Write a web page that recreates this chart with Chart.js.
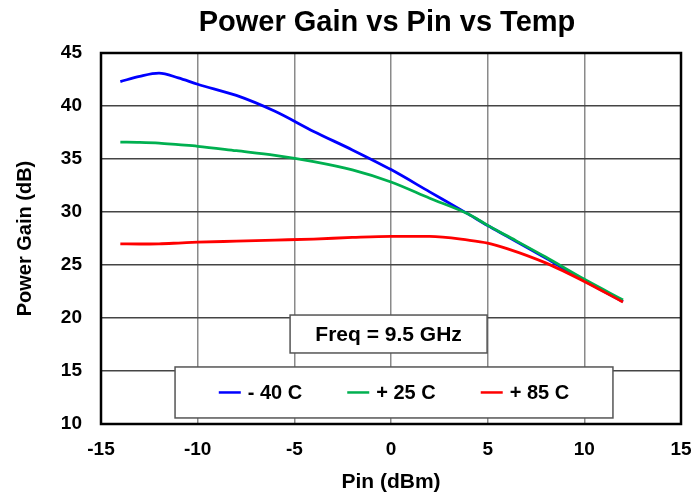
<!DOCTYPE html>
<html><head><meta charset="utf-8">
<script src="https://cdn.jsdelivr.net/npm/chart.js@4"></script>
<style>html,body{margin:0;padding:0;background:#fff}#wrap{width:694px;height:495px}</style>
</head><body><div id="wrap"><canvas id="c" width="694" height="495"></canvas></div>
<script>
const CHART_TITLE = 'Power Gain vs Pin vs Temp';
const X_TITLE = 'Pin (dBm)';
const Y_TITLE = 'Power Gain (dB)';
const NOTE_TEXT = 'Freq = 9.5 GHz';
const SERIES_LABELS = ['- 40 C', '+ 25 C', '+ 85 C'];
const PIN = [-14, -13, -12, -11, -10, -8, -6, -4, -2, 0, 2, 4, 5, 6, 8, 10, 12];
const GAIN_M40 = [42.3, 42.8, 43.1, 42.65, 42.05, 41.0, 39.5, 37.6, 35.86, 34.0, 31.9, 29.8, 28.72, 27.7, 25.65, 23.5, 21.55];
const GAIN_P25 = [36.6, 36.57, 36.5, 36.35, 36.2, 35.78, 35.35, 34.75, 33.97, 32.83, 31.3, 29.8, 28.74, 27.75, 25.75, 23.65, 21.7];
const GAIN_P85 = [27.0, 26.98, 27.0, 27.07, 27.15, 27.25, 27.35, 27.45, 27.6, 27.7, 27.7, 27.35, 27.07, 26.55, 25.2, 23.45, 21.5];
const X_TICKS = [-15, -10, -5, 0, 5, 10, 15];
const Y_TICKS = [10, 15, 20, 25, 30, 35, 40, 45];
const COLORS = ['#0000FF', '#00B050', '#FF0000'];

const FONT = "'Liberation Sans', Arial, sans-serif";
const toPts = (ys) => PIN.map((x, i) => ({x, y: ys[i]}));

const overlayPlugin = {
  id: 'overlays',
  beforeDatasetsDraw(chart) {
    const {ctx, chartArea: a} = chart;
    ctx.save();
    ctx.strokeStyle = '#000';
    ctx.lineWidth = 2.5;
    ctx.strokeRect(a.left, a.top, a.right - a.left, a.bottom - a.top);
    ctx.restore();
  },
  afterDatasetsDraw(chart, args, opts) {
    const {ctx, scales: {x, y}} = chart;
    const box = (b) => {
      const l = x.getPixelForValue(b.xMin), r = x.getPixelForValue(b.xMax);
      const t = y.getPixelForValue(b.yMax), btm = y.getPixelForValue(b.yMin);
      ctx.fillStyle = '#fff';
      ctx.fillRect(l, t, r - l, btm - t);
      ctx.strokeStyle = '#555';
      ctx.lineWidth = 1.5;
      ctx.strokeRect(l, t, r - l, btm - t);
      return {l, r, t, b: btm, cx: (l + r) / 2, cy: (t + btm) / 2};
    };
    ctx.save();
    const nb = box(opts.noteBox);
    ctx.fillStyle = '#000';
    ctx.font = 'bold 21px ' + FONT;
    ctx.textAlign = 'center';
    ctx.textBaseline = 'middle';
    ctx.fillText(NOTE_TEXT, nb.cx, nb.cy + 1);
    const lb = box(opts.legendBox);
    ctx.font = 'bold 20px ' + FONT;
    const sample = 22, gap1 = 7, gap2 = 45;
    const items = chart.data.datasets.map(d => ({label: d.label, color: d.borderColor, w: ctx.measureText(d.label).width}));
    let total = 0;
    items.forEach((it, i) => { total += sample + gap1 + it.w + (i < items.length - 1 ? gap2 : 0); });
    let cur = lb.cx - total / 2;
    ctx.textAlign = 'left';
    items.forEach((it) => {
      ctx.strokeStyle = it.color;
      ctx.lineWidth = 2.5;
      ctx.beginPath();
      ctx.moveTo(cur, lb.cy);
      ctx.lineTo(cur + sample, lb.cy);
      ctx.stroke();
      ctx.fillStyle = '#000';
      ctx.fillText(it.label, cur + sample + gap1, lb.cy + 1);
      cur += sample + gap1 + it.w + gap2;
    });
    ctx.restore();
  },
  afterDraw(chart) {
    const {ctx, chartArea: a} = chart;
    ctx.save();
    ctx.fillStyle = '#000';
    ctx.font = 'bold 29px ' + FONT;
    ctx.textAlign = 'center';
    ctx.textBaseline = 'middle';
    ctx.fillText(CHART_TITLE, (a.left + a.right) / 2 - 4, 23);
    ctx.restore();
  }
};

new Chart(document.getElementById('c'), {
  type: 'line',
  data: {
    datasets: [
      {label: SERIES_LABELS[0], data: toPts(GAIN_M40), borderColor: COLORS[0], order: 2},
      {label: SERIES_LABELS[1], data: toPts(GAIN_P25), borderColor: COLORS[1], order: 1},
      {label: SERIES_LABELS[2], data: toPts(GAIN_P85), borderColor: COLORS[2], order: 0}
    ].map(d => Object.assign(d, {borderWidth: 2.8, pointRadius: 0, fill: false, cubicInterpolationMode: 'monotone'}))
  },
  options: {
    responsive: false,
    animation: false,
    devicePixelRatio: 1,
    layout: {padding: {top: 53, right: 13, left: 0, bottom: 0}},
    plugins: {
      legend: {display: false},
      title: {display: false},
      tooltip: {enabled: false},
      overlays: {
        noteBox: {xMin: -5.22, xMax: 4.97, yMin: 16.7, yMax: 20.28},
        legendBox: {xMin: -11.17, xMax: 11.48, yMin: 10.57, yMax: 15.38}
      }
    },
    scales: {
      x: {
        type: 'linear', min: -15, max: 15,
        afterBuildTicks: (s) => { s.ticks = X_TICKS.map(v => ({value: v})); },
        afterFit: (s) => { s.height = 71; s.paddingRight = 0; s.paddingLeft = 0; },
        grid: {color: '#8a8a8a', lineWidth: 1.5, drawTicks: false},
        border: {display: false},
        ticks: {color: '#000', padding: 14, font: {family: FONT, size: 19, weight: 'bold'}},
        title: {display: true, text: X_TITLE, color: '#000', padding: {top: 0, bottom: 0}, font: {family: FONT, size: 21, weight: 'bold'}}
      },
      y: {
        type: 'linear', min: 10, max: 45,
        afterBuildTicks: (s) => { s.ticks = Y_TICKS.map(v => ({value: v})); },
        afterFit: (s) => { s.width = 101; s.paddingTop = 0; s.paddingBottom = 0; },
        grid: {color: '#444', lineWidth: 1.5, drawTicks: false},
        border: {display: false},
        ticks: {color: '#000', padding: 19, font: {family: FONT, size: 19, weight: 'bold'}},
        title: {display: true, text: Y_TITLE, color: '#000', padding: {top: 13, bottom: 0}, font: {family: FONT, size: 20, weight: 'bold'}}
      }
    }
  },
  plugins: [overlayPlugin]
});
</script>
</body></html>
